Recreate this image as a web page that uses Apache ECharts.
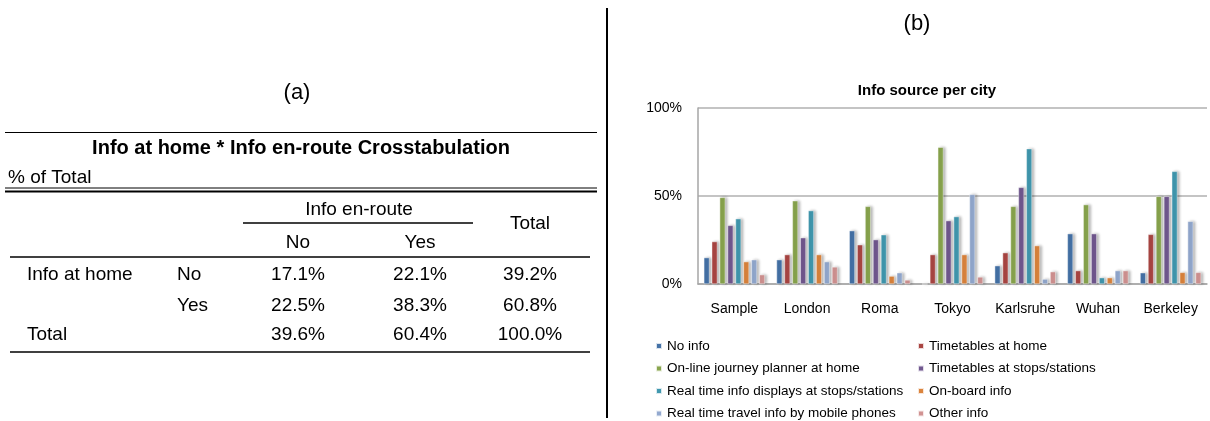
<!DOCTYPE html>
<html>
<head>
<meta charset="utf-8">
<script src="https://cdn.jsdelivr.net/npm/echarts@6/dist/echarts.min.js"></script>
<style>
html,body{margin:0;padding:0;background:#fff;}
#c{width:1210px;height:421px;}
</style>
</head>
<body>
<div id="c"></div>
<script>
// ---- Chart (b) data ----
const cities = ['Sample','London','Roma','Tokyo','Karlsruhe','Wuhan','Berkeley'];
const seriesNames = ['No info','Timetables at home','On-line journey planner at home','Timetables at stops/stations','Real time info displays at stops/stations','On-board info','Real time travel info by mobile phones','Other info'];
const noInfo        = [15.0, 13.8, 30.3, 0,    10.4, 28.6, 6.4];
const ttHome        = [24.1, 16.7, 22.3, 16.7, 17.8, 7.6, 28.2];
const onlinePlanner = [49.2, 47.3, 44.1, 77.7, 44.1, 45.1, 49.8];
const ttStops       = [33.3, 26.3, 25.2, 36.0, 54.9, 28.6, 49.8];
const rtDisplays    = [37.1, 41.7, 28.0, 38.3, 76.9, 3.6, 64.0];
const onBoard       = [12.7, 16.7, 4.5, 16.7, 21.8, 3.6, 6.6];
const rtMobile      = [13.8, 12.7, 6.4, 50.9, 2.8, 7.6, 35.6];
const otherInfo     = [5.3, 9.7, 2.3, 4.0, 7.0, 7.6, 6.6];
const yTicks = [0, 50, 100];

// ---- Table (a) data ----
const tableTitle = 'Info at home * Info en-route Crosstabulation';
const tableSubtitle = '% of Total';
const colGroup = 'Info en-route';
const colLabels = ['No', 'Yes'];
const totalLabel = 'Total';
const rowGroup = 'Info at home';
const rowLabels = ['No', 'Yes'];
const cellValues = [['17.1%', '22.1%', '39.2%'], ['22.5%', '38.3%', '60.8%']];
const totalRow = ['39.6%', '60.4%', '100.0%'];

const colors = ['#4572A7','#AA4643','#89A54E','#71588F','#4198AF','#DB843D','#93A9CF','#D19392'];
const seriesData = [noInfo, ttHome, onlinePlanner, ttStops, rtDisplays, onBoard, rtMobile, otherInfo];
const FONT = '"Liberation Sans", Arial, Helvetica, sans-serif';

const chart = echarts.init(document.getElementById('c'), null, {renderer: 'canvas'});

// table layout
const colX = [298, 420, 530];
const rowY = [275, 306, 335];
const tFont = 19;
function txt(x, y, s, align, bold, size) {
  return {type: 'text', x: x, y: y, style: {text: s, fill: '#000', font: (bold ? 'bold ' : '') + (size || tFont) + 'px ' + FONT, textAlign: align || 'center', textVerticalAlign: 'middle'}};
}
function hline(x1, x2, y, w) {
  return {type: 'line', shape: {x1: x1, y1: y, x2: x2, y2: y}, style: {stroke: '#000', lineWidth: w || 1}};
}
const g = [];
g.push({type: 'line', shape: {x1: 607, y1: 8, x2: 607, y2: 418}, style: {stroke: '#000', lineWidth: 2}});
g.push(txt(297, 93, '(a)', 'center', false, 22));
g.push(txt(917, 24, '(b)', 'center', false, 22));
g.push(hline(5, 597, 132.5, 1));
g.push(txt(301, 148, tableTitle, 'center', true, 20));
g.push(txt(8, 178, tableSubtitle, 'left', false, 19));
g.push(hline(5, 597, 188, 1));
g.push(hline(5, 597, 191.5, 2));
g.push(txt((colX[0] + colX[1]) / 2, 210, colGroup, 'center'));
g.push(hline(243, 473, 223, 1.5));
g.push(txt(colX[2], 224, totalLabel, 'center'));
colLabels.forEach((s, i) => g.push(txt(colX[i], 243, s, 'center')));
g.push(hline(10, 590, 257, 1.5));
g.push(txt(27, rowY[0], rowGroup, 'left'));
rowLabels.forEach((s, i) => {
  g.push(txt(177, rowY[i], s, 'left'));
  cellValues[i].forEach((v, j) => g.push(txt(colX[j], rowY[i], v, 'center')));
});
g.push(txt(27, rowY[2], totalLabel, 'left'));
totalRow.forEach((v, j) => g.push(txt(colX[j], rowY[2], v, 'center')));
g.push(hline(10, 590, 352, 1.5));

const legendLeft = [0, 2, 4, 6].map(i => seriesNames[i]);
const legendRight = [1, 3, 5, 7].map(i => seriesNames[i]);
const legendCommon = {
  orient: 'vertical', padding: 0, itemWidth: 6, itemHeight: 6, itemGap: 8.5, icon: 'rect',
  textStyle: {fontFamily: FONT, fontSize: 13.5, color: '#000'}, selectedMode: false
};

chart.setOption({
  animation: false,
  color: colors,
  title: {
    text: 'Info source per city', left: 922, top: 78, textAlign: 'center',
    textStyle: {fontFamily: FONT, fontSize: 15, fontWeight: 'bold', color: '#000'}
  },
  legend: [
    Object.assign({data: legendLeft, left: 655, top: 339}, legendCommon),
    Object.assign({data: legendRight, left: 917, top: 339}, legendCommon)
  ],
  grid: {left: 698, right: 3, top: 108, bottom: 137, containLabel: false},
  xAxis: {
    type: 'category', data: cities,
    axisLine: {lineStyle: {color: '#a6a6a6', width: 1.5}},
    axisTick: {show: false},
    axisLabel: {interval: 0, fontFamily: FONT, fontSize: 14, color: '#000', margin: 18}
  },
  yAxis: {
    type: 'value', min: 0, max: 100, interval: 50,
    axisLine: {show: true, lineStyle: {color: '#a6a6a6', width: 1.5}},
    axisTick: {show: false},
    splitLine: {lineStyle: {color: '#b0b0b0', width: 1.5}},
    axisLabel: {fontFamily: FONT, fontSize: 14, color: '#000', margin: 16, formatter: v => yTicks.indexOf(v) >= 0 ? v + '%' : ''}
  },
  series: seriesNames.map((n, i) => ({
    name: n, type: 'bar', data: seriesData[i],
    barCategoryGap: '16%', barGap: '40%',
    itemStyle: {borderColor: 'rgba(255,255,255,0.8)', borderWidth: 0.5, shadowColor: 'rgba(0,0,0,0.3)', shadowBlur: 3, shadowOffsetX: 2, shadowOffsetY: 0}
  })),
  graphic: {elements: g}
});
</script>
</body>
</html>
